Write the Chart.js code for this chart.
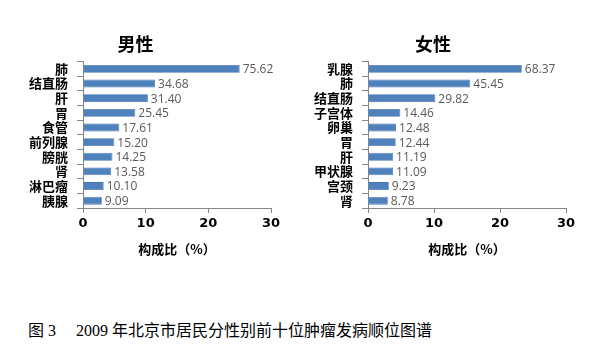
<!DOCTYPE html>
<html>
<head>
<meta charset="utf-8">
<script src="https://cdn.jsdelivr.net/npm/chart.js@4/dist/chart.umd.min.js"></script>
<style>
  body { margin: 0; background: #fff; width: 597px; height: 353px; overflow: hidden; position: relative; }
  .box { position: absolute; top: 0; height: 290px; }
  #boxMale { left: 0; width: 300px; }
  #boxFemale { left: 300px; width: 297px; }
  #caption { position: absolute; left: 28px; top: 317px; font: 16px "Liberation Serif", "Noto Sans CJK SC", serif; color: #000; white-space: pre; }
</style>
</head>
<body>
<div class="box" id="boxMale"><canvas id="chartMale"></canvas></div>
<div class="box" id="boxFemale"><canvas id="chartFemale"></canvas></div>
<div id="caption">图 3　 2009 年北京市居民分性别前十位肿瘤发病顺位图谱</div>
<script>
// 男性
const maleSites = ["肺", "结直肠", "肝", "胃", "食管", "前列腺", "膀胱", "肾", "淋巴瘤", "胰腺"];
const maleShare = [25.0, 11.5, 10.35, 8.35, 5.8, 5.0, 4.7, 4.5, 3.3, 3.0];
const maleRate = ["75.62", "34.68", "31.40", "25.45", "17.61", "15.20", "14.25", "13.58", "10.10", "9.09"];

// 女性
const femaleSites = ["乳腺", "肺", "结直肠", "子宫体", "卵巢", "胃", "肝", "甲状腺", "宫颈", "肾"];
const femaleShare = [23.3, 15.5, 10.2, 4.9, 4.25, 4.2, 3.8, 3.8, 3.15, 3.0];
const femaleRate = ["68.37", "45.45", "29.82", "14.46", "12.48", "12.44", "11.19", "11.09", "9.23", "8.78"];

const xTicks = [0, 10, 20, 30];
const axisTitle = "构成比（%）";

const cjk = "'Noto Sans CJK SC', sans-serif";

// 柱末端的数值标签
const rateLabels = {
  id: "rateLabels",
  afterDatasetsDraw(chart, args, opts) {
    const ctx = chart.ctx;
    ctx.save();
    ctx.font = "12px 'Open Sans', 'DejaVu Sans', sans-serif";
    ctx.fillStyle = "#595959";
    ctx.textBaseline = "middle";
    chart.getDatasetMeta(0).data.forEach((bar, i) => {
      ctx.fillText(opts.labels[i], bar.x + 3, bar.y + 1);
    });
    ctx.restore();
  }
};

function makeChart(id, title, sites, share, rates, yWidth, padRight) {
  return new Chart(document.getElementById(id), {
    type: "bar",
    data: {
      labels: sites,
      datasets: [{
        data: share,
        backgroundColor: "#4F81BD",
        borderColor: "#4575b0",
        borderWidth: 0.8,
        barPercentage: 0.54,
        categoryPercentage: 1
      }]
    },
    options: {
      indexAxis: "y",
      responsive: true,
      maintainAspectRatio: false,
      animation: false,
      layout: { padding: { left: 0, right: padRight, top: 0, bottom: 0 } },
      plugins: {
        legend: { display: false },
        tooltip: { enabled: false },
        title: {
          display: true,
          text: title,
          color: "#000",
          font: { family: cjk, size: 18, weight: "bold" },
          padding: { top: 33, bottom: 7 }
        },
        rateLabels: { labels: rates }
      },
      scales: {
        y: {
          afterFit: s => { s.width = yWidth; },
          grid: { display: true, drawOnChartArea: false, tickLength: 6, color: "#868686", offset: true },
          border: { color: "#868686" },
          ticks: { color: "#000", padding: 9, autoSkip: false, font: { family: cjk, size: 13, weight: "bold" } }
        },
        x: {
          min: 0,
          max: 30,
          afterFit: s => { s.height = 82; },
          afterBuildTicks: s => { s.ticks = xTicks.map(v => ({ value: v })); },
          grid: { display: true, drawOnChartArea: false, tickLength: 5, color: "#868686" },
          border: { color: "#868686" },
          ticks: { color: "#000", padding: 3, font: { family: "'DejaVu Sans', sans-serif", size: 13, weight: "bold" } },
          title: {
            display: true,
            text: axisTitle,
            color: "#000",
            font: { family: cjk, size: 13, weight: "bold" },
            padding: { top: 0, bottom: 33 }
          }
        }
      }
    },
    plugins: [rateLabels]
  });
}

makeChart("chartMale", "男性", maleSites, maleShare, maleRate, 83, 29);
makeChart("chartFemale", "女性", femaleSites, femaleShare, femaleRate, 68, 31);
</script>
</body>
</html>
